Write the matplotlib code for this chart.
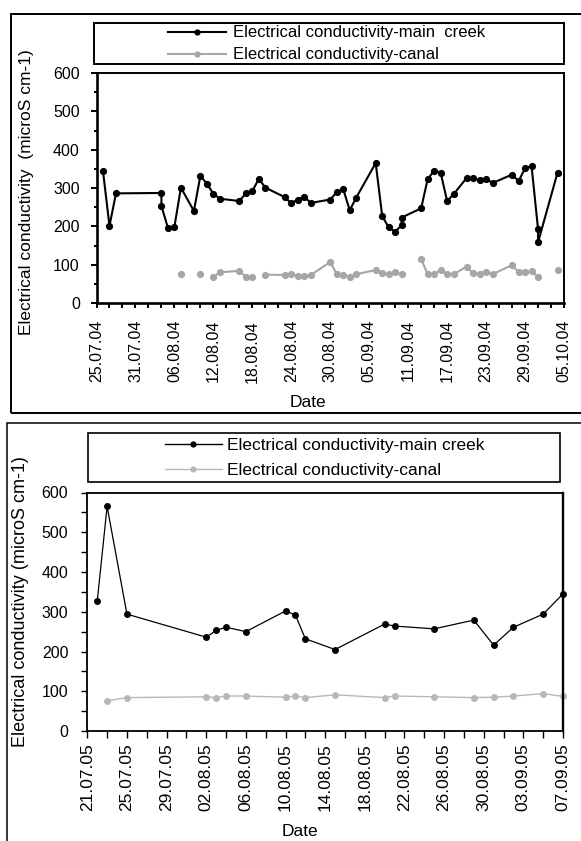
import matplotlib
matplotlib.use("Agg")
import matplotlib.pyplot as plt
import matplotlib.dates as mdates
from matplotlib.lines import Line2D
from matplotlib.patches import Rectangle
import numpy as np
from datetime import datetime

plt.rcParams['font.family'] = ['Liberation Sans', 'DejaVu Sans']

nan = np.nan

# ---------------- data: 2004 ----------------
dates_2004 = ["26.07.04", "27.07.04", "28.07.04", "04.08.04", "04.08.04", "05.08.04",
              "06.08.04", "07.08.04", "09.08.04", "10.08.04", "11.08.04", "12.08.04",
              "13.08.04", "16.08.04", "17.08.04", "18.08.04", "19.08.04", "20.08.04",
              "23.08.04", "24.08.04", "25.08.04", "26.08.04", "27.08.04", "30.08.04",
              "31.08.04", "01.09.04", "02.09.04", "03.09.04", "06.09.04", "07.09.04",
              "08.09.04", "09.09.04", "10.09.04", "10.09.04", "13.09.04", "14.09.04",
              "15.09.04", "16.09.04", "17.09.04", "18.09.04", "20.09.04", "21.09.04",
              "22.09.04", "23.09.04", "24.09.04", "27.09.04", "28.09.04", "29.09.04",
              "30.09.04", "01.10.04", "01.10.04", "04.10.04"]
creek_2004 = [344, 201, 286, 287, 253, 196,
              199, 301, 240, 332, 311, 285,
              272, 266, 286, 292, 324, 301,
              276, 260, 270, 277, 261, 270,
              289, 297, 242, 275, 365, 227,
              197, 186, 203, 223, 247, 323,
              345, 340, 266, 284, 326, 326,
              320, 324, 313, 335, 318, 351,
              358, 193, 158, 340]
canal_2004 = [nan, nan, nan, nan, nan, nan,
              nan, 75, nan, 75, nan, 68,
              80, 84, 68, 68, nan, 74,
              73, 75, 71, 71, 73, 107,
              75, 73, 68, 75, 86, 77,
              75, 80, 75, nan, 115, 75,
              75, 86, 75, 75, 95, 77,
              75, 82, 75, 99, 80, 80,
              83, 68, nan, 86]
ticks_2004 = ["25.07.04", "31.07.04", "06.08.04", "12.08.04", "18.08.04", "24.08.04",
              "30.08.04", "05.09.04", "11.09.04", "17.09.04", "23.09.04", "29.09.04",
              "05.10.04"]

# ---------------- data: 2005 ----------------
dates_2005 = ["22.07.05", "23.07.05", "25.07.05", "02.08.05", "03.08.05", "04.08.05",
              "06.08.05", "10.08.05", "11.08.05", "12.08.05", "15.08.05", "20.08.05",
              "21.08.05", "25.08.05", "29.08.05", "31.08.05", "02.09.05", "05.09.05",
              "07.09.05"]
creek_2005 = [326, 565, 294, 236, 253, 261,
              250, 302, 292, 232, 205, 269,
              264, 257, 279, 216, 261, 294,
              345]
canal_2005 = [nan, 76, 84, 86, 84, 88,
              88, 85, 88, 84, 91, 84,
              88, 86, 84, 85, 88, 94,
              87]
ticks_2005 = ["21.07.05", "25.07.05", "29.07.05", "02.08.05", "06.08.05", "10.08.05",
              "14.08.05", "18.08.05", "22.08.05", "26.08.05", "30.08.05", "03.09.05",
              "07.09.05"]

yticks = [0, 100, 200, 300, 400, 500, 600]
label_creek = "Electrical conductivity-main  creek"
label_canal = "Electrical conductivity-canal"


def to_num(strings):
    return np.array([mdates.date2num(datetime.strptime(s, "%d.%m.%y")) for s in strings])


W, H = 581.0, 841.0


def fx(px):
    return px / W


def fy(py):
    return 1 - py / H


fig = plt.figure(figsize=(5.81, 8.41), dpi=100)

# outer frames
fig.add_artist(Rectangle((fx(10.7), fy(412.7)), fx(620) - fx(10.7), fy(14) - fy(412.7),
                         transform=fig.transFigure, fill=False, lw=1.4, ec='black'))
fig.add_artist(Rectangle((fx(7.3), fy(900)), fx(620) - fx(7.3), fy(422.7) - fy(900),
                         transform=fig.transFigure, fill=False, lw=1.1, ec='black'))

# ---------------- top panel ----------------
ax1 = fig.add_axes([fx(96.5), fy(303), (564 - 96.5) / W, (303 - 73) / H])
x04 = to_num(dates_2004)
t04 = to_num(ticks_2004)
grey1 = '#a6a6a6'
ax1.plot(x04, canal_2004, '-o', color=grey1, lw=1.5, ms=5.2, mew=0, clip_on=False)
ax1.plot(x04, creek_2004, '-o', color='black', lw=1.5, ms=5.2, mew=0, clip_on=False)
ax1.set_xlim(t04[0], t04[-1])
ax1.set_ylim(yticks[0], yticks[-1])
ax1.set_xticks(t04)
ax1.set_xticklabels(ticks_2004, rotation=90, fontsize=11.5)
ax1.set_xticks(np.arange(t04[0], t04[-1] + 0.5, 2), minor=True)
ax1.set_yticks(yticks)
ax1.set_yticklabels([str(v) for v in yticks], fontsize=11.5)
ax1.set_yticks(np.arange(yticks[0] + 50, yticks[-1], 100), minor=True)
ax1.tick_params(axis='x', which='both', direction='out', length=3.6, width=1.4, pad=8.6)
ax1.tick_params(axis='y', which='major', direction='out', length=4.3, width=1.4, pad=7.7)
ax1.tick_params(axis='y', which='minor', direction='out', length=2.5, width=1.4)
ax1.spines['left'].set_linewidth(1.9)
ax1.spines['bottom'].set_linewidth(1.9)
ax1.spines['top'].set_linewidth(1.4)
ax1.spines['right'].set_linewidth(1.4)

fig.text(fx(27), fy(192), "Electrical conductivity  (microS cm-1)", rotation=90,
         ha='center', va='center', fontsize=12.5)
fig.text(fx(308), fy(403), "Date", ha='center', va='center', fontsize=12.5)

# legend top
fig.add_artist(Rectangle((fx(94), fy(64.3)), (564.3 - 94) / W, (64.3 - 22.7) / H,
                         transform=fig.transFigure, fill=False, lw=1.4, ec='black'))
h1 = [Line2D([], [], color='black', lw=1.5, marker='o', ms=4.5, mew=0),
      Line2D([], [], color=grey1, lw=1.5, marker='o', ms=4.5, mew=0)]
fig.legend(h1, [label_creek, label_canal], loc='upper left',
           bbox_to_anchor=(fx(168), fy(25.5)), bbox_transform=fig.transFigure,
           frameon=False, borderpad=0, borderaxespad=0, handlelength=3.48,
           handletextpad=0.42, labelspacing=0.42, fontsize=12, numpoints=1)

# ---------------- bottom panel ----------------
ax2 = fig.add_axes([fx(87.3), fy(731), (563 - 87.3) / W, (731 - 492.5) / H])
x05 = to_num(dates_2005)
t05 = to_num(ticks_2005)
grey2 = '#b8b8b8'
ax2.plot(x05, canal_2005, '-o', color=grey2, lw=1.0, ms=5, mew=0, clip_on=False)
ax2.plot(x05, creek_2005, '-o', color='black', lw=0.9, ms=5, mew=0, clip_on=False)
ax2.set_xlim(t05[0], t05[-1])
ax2.set_ylim(yticks[0], yticks[-1])
ax2.set_xticks(t05)
ax2.set_xticklabels(ticks_2005, rotation=90, fontsize=12.5)
ax2.set_xticks(np.arange(t05[0], t05[-1] + 0.5, 2), minor=True)
ax2.set_yticks(yticks)
ax2.set_yticklabels([str(v) for v in yticks], fontsize=11.5)
ax2.set_yticks(np.arange(yticks[0] + 50, yticks[-1], 100), minor=True)
ax2.tick_params(axis='x', which='both', direction='out', length=4.8, width=1.0, pad=3.8)
ax2.tick_params(axis='y', which='both', direction='out', length=4.1, width=1.0, pad=9.6)
for s in ['left', 'bottom', 'top']:
    ax2.spines[s].set_linewidth(1.3)
ax2.spines['right'].set_linewidth(1.7)

fig.text(fx(21), fy(602), "Electrical conductivity (microS cm-1)", rotation=90,
         ha='center', va='center', fontsize=13)
fig.text(fx(300), fy(831.7), "Date", ha='center', va='center', fontsize=12.5)

fig.add_artist(Rectangle((fx(88.3), fy(481.7)), (560 - 88.3) / W, (481.7 - 432.7) / H,
                         transform=fig.transFigure, fill=False, lw=1.2, ec='black'))
h2 = [Line2D([], [], color='black', lw=1.0, marker='o', ms=4.5, mew=0),
      Line2D([], [], color=grey2, lw=1.0, marker='o', ms=4.5, mew=0)]
fig.legend(h2, ["Electrical conductivity-main creek", label_canal], loc='upper left',
           bbox_to_anchor=(fx(165), fy(438)), bbox_transform=fig.transFigure,
           frameon=False, borderpad=0, borderaxespad=0, handlelength=3.28,
           handletextpad=0.29, labelspacing=0.55, fontsize=12.5, numpoints=1)

fig.savefig("out.png", dpi=100, facecolor='white')
